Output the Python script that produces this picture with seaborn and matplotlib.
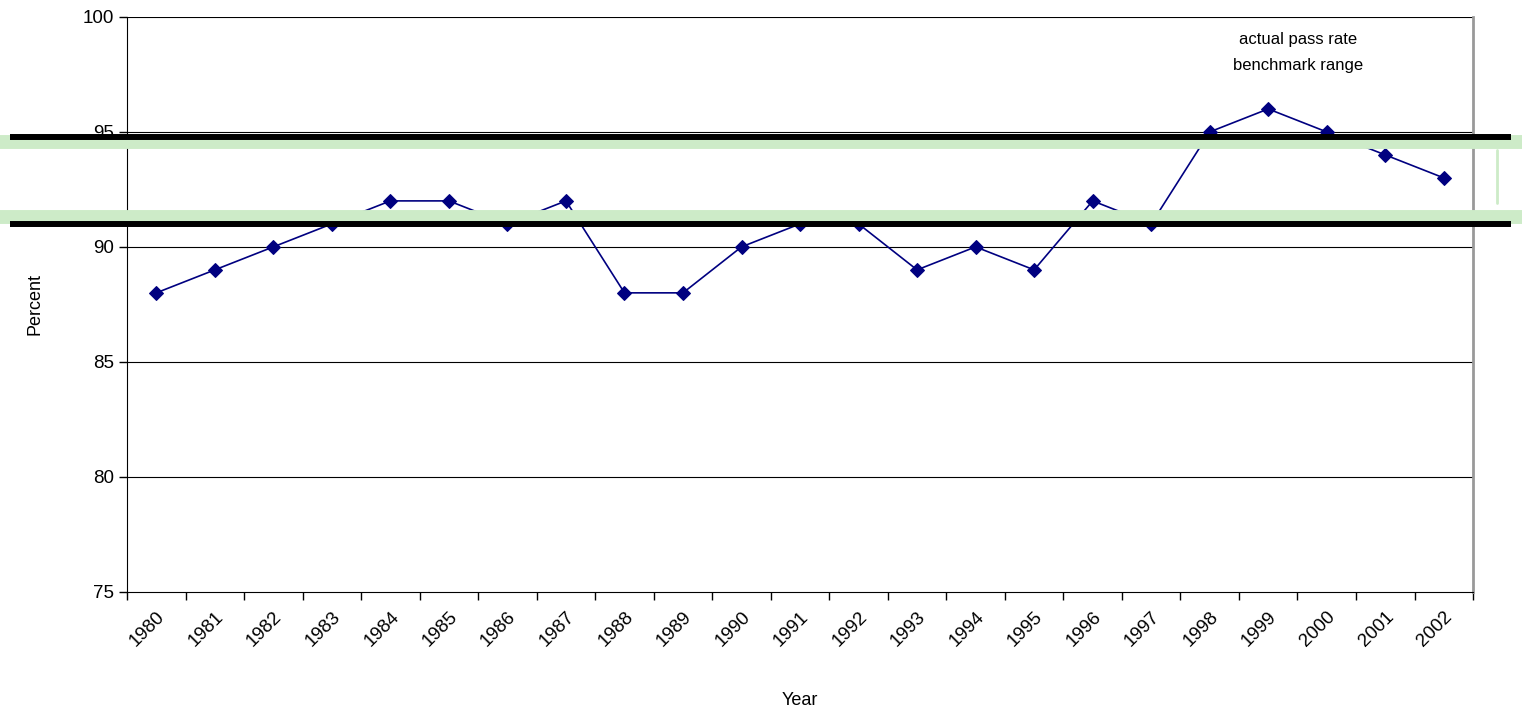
import numpy as np
import pandas as pd
import seaborn as sns
import matplotlib.pyplot as plt
import matplotlib.transforms as mtransforms

years = [str(y) for y in range(1980, 2003)]
pass_rate = [88, 89, 90, 91, 92, 92, 91, 92, 88, 88, 90, 91, 91, 89, 90, 89, 92, 91, 95, 96, 95, 94, 93]
black_lines = [94.76, 91.0]
green_lines = [94.57, 91.28]

sns.set_style("white")
plt.rcParams['font.family'] = ['Liberation Sans', 'DejaVu Sans']
plt.rcParams['text.color'] = 'black'
plt.rcParams['xtick.color'] = 'black'
plt.rcParams['ytick.color'] = 'black'
plt.rcParams['axes.labelcolor'] = 'black'

df = pd.DataFrame({"Year": years, "Percent": pass_rate, "pos": np.arange(len(years))})

fig = plt.figure(figsize=(15.23, 7.19), dpi=100)
ax = fig.add_axes([0.0834, 0.177, 0.8838, 0.7994])

for v in [80, 85, 90, 95, 100]:
    ax.axhline(v, color="black", lw=0.8, zorder=0)

sns.lineplot(data=df, x="pos", y="Percent", color="#000080", lw=1.2, marker="D",
             markersize=7, markeredgecolor="#000080", ax=ax, zorder=2)

trans = mtransforms.blended_transform_factory(ax.transAxes, ax.transData)
for v in green_lines:
    ax.plot([-0.094, 1.036], [v, v], color="#cdebc8", lw=10, transform=trans,
            clip_on=False, zorder=3, solid_capstyle="butt")
for v in black_lines:
    ax.plot([-0.087, 1.028], [v, v], color="black", lw=4.3, transform=trans,
            clip_on=False, zorder=4, solid_capstyle="butt")
ax.plot([1.018, 1.018], [94.2, 91.9], color="#cdebc8", lw=2, transform=trans,
        clip_on=False, zorder=3)

ax.set_xlim(-0.5, len(years) - 0.5)
ax.set_ylim(75, 100)
ax.set_yticks([75, 80, 85, 90, 95, 100])
ax.set_xticks(np.arange(len(years) + 1) - 0.5)
ax.set_xticklabels([])
ax.set_xticks(np.arange(len(years)), minor=True)
ax.set_xticklabels(years, minor=True, rotation=45, ha="right", rotation_mode="anchor")
offset = mtransforms.ScaledTranslation(-0.1, 0, fig.dpi_scale_trans)
for lab in ax.get_xticklabels(minor=True):
    lab.set_transform(lab.get_transform() + offset)
ax.tick_params(axis="x", which="major", length=6, width=1, bottom=True)
ax.tick_params(axis="x", which="minor", length=0, labelsize=13.5, pad=12)
ax.tick_params(axis="y", length=6, width=1, left=True, labelsize=13.5)

ax.spines["top"].set_visible(False)
ax.spines["right"].set_color("#999999")
ax.spines["right"].set_linewidth(2)
ax.spines["left"].set_color("black")
ax.spines["bottom"].set_color("black")

ax.set_xlabel("Year", fontsize=13, labelpad=30)
ax.set_ylabel("Percent", fontsize=13, labelpad=28)

ax.text(0.87, 0.96, "actual pass rate", transform=ax.transAxes, ha="center", va="center", fontsize=12)
ax.text(0.87, 0.915, "benchmark range", transform=ax.transAxes, ha="center", va="center", fontsize=12)

plt.savefig("out.png", dpi=100)
